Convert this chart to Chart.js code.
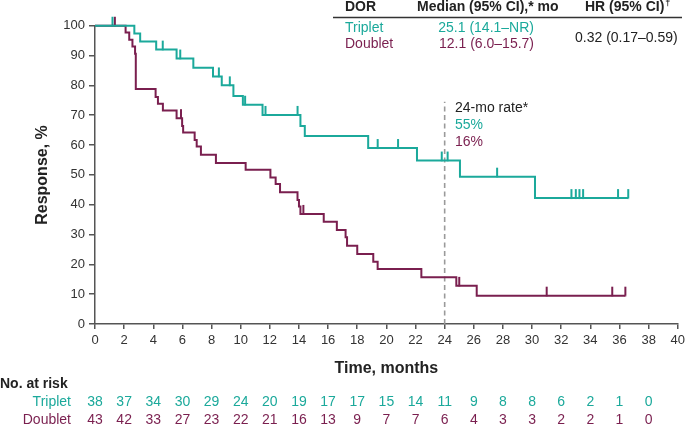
<!DOCTYPE html>
<html>
<head>
<meta charset="utf-8">
<script src="https://cdn.jsdelivr.net/npm/chart.js@4"></script>
<style>
  body { margin: 0; background: #fff; }
  #wrap { width: 689px; height: 427px; position: relative; }
</style>
</head>
<body>
<div id="wrap"><canvas id="kmChart"></canvas></div>
<script>
// KM curves: time of each drop (months) and response % after the drop
const tripletTimes = [0, 2.7, 3.1, 4.2, 5.6, 6.75, 8.1, 8.7, 9.5, 10.15, 11.5, 14.1, 14.4, 18.75, 22.1, 25.05, 30.2, 36.6];
const tripletSurv  = [100, 97.4, 94.7, 92.0, 89.0, 85.9, 83.0, 80.0, 76.4, 73.5, 70.1, 66.4, 63.0, 59.0, 54.8, 49.4, 42.2, 42.2];
const tripletCensor = [1.2, 4.65, 5.85, 8.5, 9.25, 10.3, 11.7, 13.9, 19.4, 20.8, 23.8, 24.2, 27.6, 32.7, 33.0, 33.25, 33.5, 35.9, 36.6];

const doubletTimes = [0, 2.1, 2.35, 2.57, 2.75, 2.8, 4.16, 4.32, 4.66, 5.6, 5.98, 6.05, 6.84, 6.98, 7.27, 8.3, 10.34, 12.04, 12.4, 12.7, 13.9, 14.0, 14.1, 15.7, 16.6, 17.2, 17.3, 18.0, 19.1, 19.4, 22.4, 24.8, 26.2, 36.4];
const doubletSurv  = [100, 97.7, 95.3, 93.0, 90.6, 78.8, 76.1, 73.8, 71.6, 69.0, 66.4, 64.2, 61.7, 59.5, 56.7, 54.0, 51.7, 49.1, 46.9, 44.2, 41.6, 39.4, 36.9, 34.3, 31.5, 29.1, 26.2, 23.5, 20.9, 18.4, 15.7, 12.8, 9.5, 9.5];
const doubletCensor = [1.36, 5.9, 14.3, 25.0, 31.0, 35.5, 36.4];

const riskTimes   = [0, 2, 4, 6, 8, 10, 12, 14, 16, 18, 20, 22, 24, 26, 28, 30, 32, 34, 36, 38];
const riskTriplet = [38, 37, 34, 30, 29, 24, 20, 19, 17, 17, 15, 14, 11, 9, 8, 8, 6, 2, 1, 0];
const riskDoublet = [43, 42, 33, 27, 23, 22, 21, 16, 13, 9, 7, 7, 6, 4, 3, 3, 2, 2, 1, 0];

const TEAL = '#1ba99b';
const MAROON = '#7a1f4f';
const TEXT = '#222';
const AXIS = '#555';
const FONT = '"Liberation Sans", Arial, sans-serif';

function levelAt(times, surv, t) {
    let v = surv[0];
    for (let i = 0; i < times.length; i++) {
        if (times[i] <= t) v = surv[i];
    }
    return v;
}

function toPoints(times, surv) {
    return times.map((t, i) => ({ x: t, y: surv[i] }));
}

function censorPoints(cens, times, surv) {
    return cens.map(t => ({ x: t, y: levelAt(times, surv, t) }));
}

// upright tick mark that sits on top of the curve
function tickMark(color) {
    const c = document.createElement('canvas');
    c.width = 4;
    c.height = 20;
    const g = c.getContext('2d');
    g.fillStyle = color;
    g.fillRect(1, 1, 2, 9.5);
    return c;
}

const overlay = {
    id: 'overlay',
    beforeDatasetsDraw(chart) {
        const { ctx, scales: { x, y } } = chart;
        ctx.save();
        ctx.strokeStyle = '#9a9a9a';
        ctx.lineWidth = 1.6;
        ctx.setLineDash([5, 3.5]);
        ctx.beginPath();
        ctx.moveTo(x.getPixelForValue(24), y.getPixelForValue(0));
        ctx.lineTo(x.getPixelForValue(24), y.getPixelForValue(74.5));
        ctx.stroke();
        ctx.restore();
    },
    afterDraw(chart) {
        const { ctx, scales: { x } } = chart;
        ctx.save();

        // axis titles
        ctx.fillStyle = TEXT;
        ctx.font = 'bold 16px ' + FONT;
        ctx.textAlign = 'center';
        ctx.textBaseline = 'middle';
        ctx.fillText('Time, months', (chart.chartArea.left + chart.chartArea.right) / 2, 369);
        ctx.save();
        ctx.translate(43, 175);
        ctx.rotate(-Math.PI / 2);
        ctx.fillText('Response, %', 0, 0);
        ctx.restore();

        // number at risk
        ctx.font = 'bold 14px ' + FONT;
        ctx.textAlign = 'left';
        ctx.fillText('No. at risk', 0, 384);
        ctx.font = '14px ' + FONT;
        ctx.textAlign = 'right';
        ctx.fillStyle = TEAL;
        ctx.fillText('Triplet', 71, 402);
        ctx.fillStyle = MAROON;
        ctx.fillText('Doublet', 71, 420);
        ctx.textAlign = 'center';
        riskTimes.forEach((t, i) => {
            const px = x.getPixelForValue(t);
            ctx.fillStyle = TEAL;
            ctx.fillText(String(riskTriplet[i]), px, 402);
            ctx.fillStyle = MAROON;
            ctx.fillText(String(riskDoublet[i]), px, 420);
        });

        // 24-month rates
        ctx.textAlign = 'left';
        ctx.fillStyle = TEXT;
        ctx.fillText('24-mo rate*', 455, 108);
        ctx.fillStyle = TEAL;
        ctx.fillText('55%', 455, 125);
        ctx.fillStyle = MAROON;
        ctx.fillText('16%', 455, 142);

        // summary table
        ctx.fillStyle = TEXT;
        ctx.font = 'bold 14px ' + FONT;
        ctx.fillText('DOR', 345, 7);
        ctx.fillText('Median (95% CI),* mo', 417, 7);
        ctx.fillText('HR (95% CI)', 585, 7);
        const hrW = ctx.measureText('HR (95% CI)').width;
        ctx.font = 'bold 9px ' + FONT;
        ctx.fillText('\u2020', 585 + hrW + 1, 4);
        ctx.strokeStyle = '#333';
        ctx.lineWidth = 1.3;
        ctx.beginPath();
        ctx.moveTo(333, 17.5);
        ctx.lineTo(682, 17.5);
        ctx.stroke();

        ctx.font = '14px ' + FONT;
        ctx.fillStyle = TEAL;
        ctx.fillText('Triplet', 345, 28);
        ctx.fillStyle = MAROON;
        ctx.fillText('Doublet', 345, 44);
        ctx.textAlign = 'right';
        ctx.fillStyle = TEAL;
        ctx.fillText('25.1 (14.1\u2013NR)', 534, 28);
        ctx.fillStyle = MAROON;
        ctx.fillText('12.1 (6.0\u201315.7)', 534, 44);
        ctx.fillStyle = TEXT;
        ctx.textAlign = 'left';
        ctx.fillText('0.32 (0.17\u20130.59)', 575, 38);

        ctx.restore();
    }
};

const ctx = document.getElementById('kmChart').getContext('2d');
const kmChart = new Chart(ctx, {
    type: 'scatter',
    data: {
        datasets: [{
            label: 'Triplet',
            type: 'line',
            data: toPoints(tripletTimes, tripletSurv),
            borderColor: TEAL,
            borderWidth: 2,
            stepped: 'before',
            pointRadius: 0,
            fill: false
        }, {
            label: 'Doublet',
            type: 'line',
            data: toPoints(doubletTimes, doubletSurv),
            borderColor: MAROON,
            borderWidth: 2,
            stepped: 'before',
            pointRadius: 0,
            fill: false
        }, {
            label: 'Triplet censored',
            data: censorPoints(tripletCensor, tripletTimes, tripletSurv),
            pointStyle: tickMark(TEAL),
            pointRadius: 5
        }, {
            label: 'Doublet censored',
            data: censorPoints(doubletCensor, doubletTimes, doubletSurv),
            pointStyle: tickMark(MAROON),
            pointRadius: 5
        }]
    },
    options: {
        responsive: true,
        maintainAspectRatio: false,
        animation: false,
        clip: false,
        layout: { padding: { left: 55, right: 7, top: 25.7, bottom: 73 } },
        plugins: {
            legend: { display: false },
            tooltip: { enabled: false }
        },
        scales: {
            x: {
                type: 'linear',
                min: 0,
                max: 40,
                afterFit: scale => { scale.height = 30; },
                ticks: {
                    stepSize: 2,
                    color: '#333',
                    padding: 4,
                    font: { family: FONT, size: 13 }
                },
                grid: { drawOnChartArea: false, drawTicks: true, tickLength: 5, color: AXIS, lineWidth: 1.5 },
                border: { display: true, color: AXIS, width: 1.5 }
            },
            y: {
                min: 0,
                max: 100,
                afterFit: scale => { scale.width = 40; },
                ticks: {
                    stepSize: 10,
                    color: '#333',
                    padding: 4,
                    font: { family: FONT, size: 13 }
                },
                grid: { drawOnChartArea: false, drawTicks: true, tickLength: 6, color: AXIS, lineWidth: 1.5 },
                border: { display: true, color: AXIS, width: 1.5 }
            }
        }
    },
    plugins: [overlay]
});
</script>
</body>
</html>
